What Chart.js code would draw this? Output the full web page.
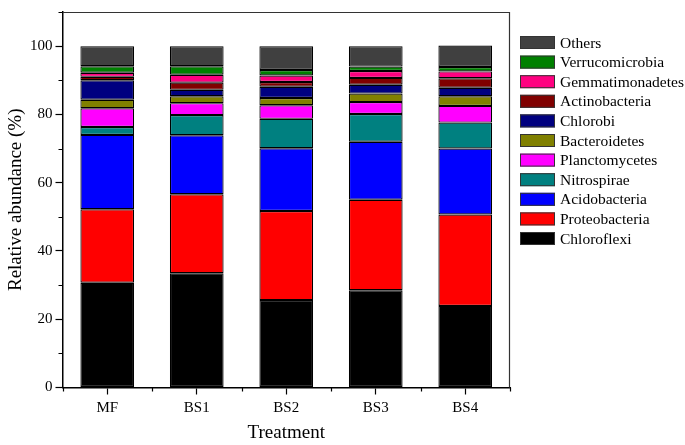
<!DOCTYPE html>
<html>
<head>
<meta charset="utf-8">
<script src="https://cdn.jsdelivr.net/npm/chart.js@4/dist/chart.umd.min.js"></script>
<style>
  html, body { margin: 0; padding: 0; background: #fff; }
  #wrap { width: 685px; height: 445px; }
</style>
</head>
<body>
<div id="wrap"><canvas id="c" width="685" height="445"></canvas></div>
<script>
const categories = ['MF', 'BS1', 'BS2', 'BS3', 'BS4'];
const yTicks = [0, 20, 40, 60, 80, 100];

const chloroflexi      = [30.7, 33.5, 25.6, 28.5, 23.9];
const proteobacteria   = [21.5, 23.1, 26.1, 26.5, 26.8];
const acidobacteria    = [21.8, 17.3, 18.4, 17.0, 19.3];
const nitrospirae      = [2.3, 5.9, 8.6, 8.1, 7.6];
const planctomycetes   = [5.5, 3.5, 4.0, 3.5, 4.9];
const bacteroidetes    = [2.5, 2.0, 2.1, 2.5, 2.8];
const chlorobi         = [5.7, 1.9, 3.3, 2.6, 2.5];
const actinobacteria   = [1.0, 2.1, 1.4, 2.0, 2.8];
const gemmatimonadetes = [1.2, 2.3, 1.9, 2.0, 2.0];
const verrucomicrobia  = [1.9, 2.5, 1.6, 1.3, 1.3];
const others           = [5.9, 5.9, 7.0, 6.0, 6.3];

const seriesNames = ['Chloroflexi', 'Proteobacteria', 'Acidobacteria', 'Nitrospirae', 'Planctomycetes',
  'Bacteroidetes', 'Chlorobi', 'Actinobacteria', 'Gemmatimonadetes', 'Verrucomicrobia', 'Others'];
const seriesValues = [chloroflexi, proteobacteria, acidobacteria, nitrospirae, planctomycetes,
  bacteroidetes, chlorobi, actinobacteria, gemmatimonadetes, verrucomicrobia, others];
const seriesColors = ['#000000', '#FF0000', '#0000FF', '#008080', '#FF00FF',
  '#808000', '#000080', '#800000', '#FF0080', '#008000', '#404040'];

const FONT = "'Liberation Serif', 'Times New Roman', serif";

const datasets = seriesNames.map((n, i) => ({
  label: n,
  data: seriesValues[i],
  backgroundColor: seriesColors[i],
  borderColor: '#000',
  borderWidth: 1.2,
  borderSkipped: false,
  barPercentage: 0.6,
  categoryPercentage: 1.0
}));

const framePlugin = {
  id: 'frame',
  afterDraw(chart) {
    const ctx = chart.ctx;
    const a = chart.chartArea;
    const x = chart.scales.x, y = chart.scales.y;
    ctx.save();
    // top & right frame
    ctx.strokeStyle = '#333';
    ctx.lineWidth = 1.2;
    ctx.beginPath();
    ctx.moveTo(a.left, a.top + 0.5);
    ctx.lineTo(a.right - 0.5, a.top + 0.5);
    ctx.lineTo(a.right - 0.5, a.bottom);
    ctx.stroke();
    // minor ticks
    ctx.strokeStyle = '#000';
    ctx.lineWidth = 1.2;
    ctx.beginPath();
    for (let v = 10; v <= 110; v += 20) {
      const py = Math.round(y.getPixelForValue(v)) + 0.5;
      ctx.moveTo(a.left, py);
      ctx.lineTo(a.left - 4, py);
    }
    for (let i = 0; i <= categories.length; i++) {
      const px = Math.round(x.getPixelForValue(i - 0.5)) + 0.5;
      ctx.moveTo(px, a.bottom);
      ctx.lineTo(px, a.bottom + 4);
    }
    ctx.stroke();
    // legend (reversed order)
    ctx.font = '15.5px ' + FONT;
    ctx.textBaseline = 'middle';
    ctx.textAlign = 'left';
    const items = chart.data.datasets.slice().reverse();
    items.forEach((ds, k) => {
      const cy = 42.5 + k * 19.6;
      ctx.fillStyle = ds.backgroundColor;
      ctx.fillRect(520, cy - 6.5, 35, 13);
      ctx.strokeStyle = '#333';
      ctx.lineWidth = 1;
      ctx.strokeRect(520.5, cy - 6, 34, 12);
      ctx.fillStyle = '#000';
      ctx.fillText(ds.label, 560, cy + 1);
    });
    ctx.restore();
  }
};

new Chart(document.getElementById('c'), {
  type: 'bar',
  data: { labels: categories, datasets },
  options: {
    responsive: false,
    animation: false,
    devicePixelRatio: 1,
    layout: { padding: { top: 1, right: 175, left: 0, bottom: 0 } },
    plugins: { legend: { display: false }, tooltip: { enabled: false } },
    scales: {
      x: {
        stacked: true,
        offset: true,
        grid: { display: true, drawOnChartArea: false, offset: false, tickLength: 7, tickColor: '#000', tickWidth: 1.2 },
        border: { display: true, color: '#000', width: 1.5 },
        ticks: { color: '#000', font: { family: FONT, size: 15 }, padding: 5 },
        title: { display: true, text: 'Treatment', color: '#000', font: { family: FONT, size: 19 }, padding: { top: 0, bottom: 1 } },
        afterFit(s) { s.height = 57.5; }
      },
      y: {
        stacked: true,
        min: 0,
        max: 110,
        grid: { display: true, drawOnChartArea: false, tickLength: 7, tickColor: '#000', tickWidth: 1.2 },
        border: { display: true, color: '#000', width: 1.5 },
        afterBuildTicks(s) { s.ticks = yTicks.map(v => ({ value: v })); },
        ticks: { color: '#000', font: { family: FONT, size: 15 }, padding: 3 },
        title: { display: true, text: 'Relative abundance (%)', color: '#000', font: { family: FONT, size: 19 }, padding: { top: 5, bottom: 0 } },
        afterFit(s) { s.width = 62.5; }
      }
    }
  },
  plugins: [framePlugin]
});
</script>
</body>
</html>
